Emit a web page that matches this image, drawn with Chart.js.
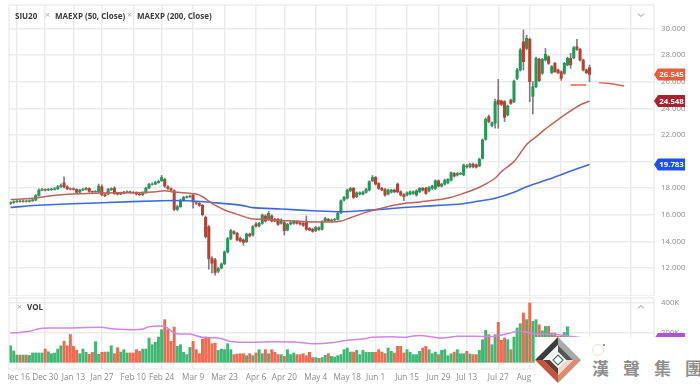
<!DOCTYPE html>
<html><head><meta charset="utf-8">
<script src="https://cdn.jsdelivr.net/npm/chart.js@4"></script>
<style>
html,body{margin:0;padding:0;background:#fff;width:700px;height:388px;overflow:hidden;font-family:"Open Sans",sans-serif}
#stage{position:absolute;left:0;top:0;width:700px;height:388px;filter:blur(0.45px)}
canvas{position:absolute;left:0}
.lg{position:absolute;font-size:8px;font-weight:700;color:#3a3a3a;white-space:nowrap;line-height:10px}
.x{position:absolute;font-size:9px;color:#aaa;line-height:10px}
</style></head><body>
<div id="stage">
<canvas id="main" width="700" height="296" style="top:0"></canvas>
<canvas id="vol" width="700" height="91" style="top:297px"></canvas>
<div class="lg" style="left:15px;top:11px">SIU20</div>
<div class="x" style="left:45px;top:10px">×</div>
<div class="lg" style="left:55px;top:11px">MAEXP (50, Close)</div>
<div class="x" style="left:127px;top:10px">×</div>
<div class="lg" style="left:137px;top:11px">MAEXP (200, Close)</div>
<div class="x" style="left:17px;top:302px">×</div>
<div class="lg" style="left:27px;top:302px">VOL</div>
<svg style="position:absolute;left:637px;top:12px" width="8" height="6"><path d="M1 1.5L4 4.5L7 1.5" fill="none" stroke="#888" stroke-width="1"/></svg>
<svg style="position:absolute;left:637px;top:304px" width="8" height="6"><path d="M1 4.5L4 1.5L7 4.5" fill="none" stroke="#888" stroke-width="1"/></svg>
<div style="position:absolute;left:0;top:368px;width:8px;height:20px;background:#fff"></div>
<div style="position:absolute;left:535px;top:337px;width:165px;height:51px;background:#fff"></div>
<svg style="position:absolute;left:535px;top:337px" width="46" height="46" viewBox="0 0 46 46">
<polygon points="23,0 0,23 8,23 23,8" fill="#3c3c3c"/>
<polygon points="23,0 46,23 38,23 23,8" fill="#a9a9a9"/>
<polygon points="0,23 23,46 23,38 8,23" fill="#c2553c"/>
<polygon points="46,23 23,46 23,38 38,23" fill="#dc8a72"/>
<polygon points="23,8 8,23 15,23 23,15" fill="#f2f2f2"/>
<polygon points="23,8 38,23 31,23 23,15" fill="#555"/>
<polygon points="8,23 23,38 23,31 15,23" fill="#6d3a30"/>
<polygon points="38,23 23,38 23,31 31,23" fill="#f3d8cf"/>
<polygon points="23,15 15,23 23,31 31,23" fill="#fff"/>
<path d="M23 18L28 23L23 28L18 23Z" fill="none" stroke="#3b7d5a" stroke-width="1.2"/>
</svg>
<svg style="position:absolute;left:591px;top:343px" width="16" height="16"><circle cx="7" cy="7" r="5.5" fill="none" stroke="#e4e4d8" stroke-width="1"/><circle cx="13" cy="2" r="1" fill="#4c8a5c"/></svg>
<div style="position:absolute;left:592px;top:357px;font-family:'Noto Sans CJK TC';font-weight:700;font-size:17px;line-height:22px;letter-spacing:14px;color:#8d8d8d;white-space:nowrap;width:108px;overflow:hidden">漢聲集團</div>
</div>
<script>
const tradingDays=[['Dec',[12,13,16,17,18,19,20,23,24,26,27,30,31]],
['Jan',[2,3,6,7,8,9,10,13,14,15,16,17,21,22,23,24,27,28,29,30,31]],
['Feb',[3,4,5,6,7,10,11,12,13,14,18,19,20,21,24,25,26,27,28]],
['Mar',[2,3,4,5,6,9,10,11,12,13,16,17,18,19,20,23,24,25,26,27,30,31]],
['Apr',[1,2,3,6,7,8,9,13,14,15,16,17,20,21,22,23,24,27,28,29,30]],
['May',[1,4,5,6,7,8,11,12,13,14,15,18,19,20,21,22,26,27,28,29]],
['Jun',[1,2,3,4,5,8,9,10,11,12,15,16,17,18,19,22,23,24,25,26,29,30]],
['Jul',[1,2,6,7,8,9,10,13,14,15,16,17,20,21,22,23,24,27,28,29,30,31]],
['Aug',[3,4,5,6,7,10,11,12,13,14,17,18,19,20,21,24,25,26,27,28,31]],
['Sep',[1,2,3,4,8,9,10,11,14,15,16,17,18,21,22,23,24,25,28,29,30]],
['Oct',[1,2,5]]];
const dates=tradingDays.flatMap(m=>m[1].map(d=>m[0]+' '+d));
const tickDates=['Dec 16','Dec 30','Jan 13','Jan 27','Feb 10','Feb 24','Mar 9','Mar 23','Apr 6','Apr 20','May 4','May 18','Jun 1','Jun 15','Jun 29','Jul 13','Jul 27','Aug 10','Aug 24','Sep 4','Sep 24'];
const priceTicks=[12,14,16,18,20,22,24,26,28,30];
const volTicks=[0,200,400];
const opens=[16.85,16.92,16.98,17.02,17.00,17.03,17.00,17.05,17.10,17.45,
17.85,17.90,17.85,17.88,17.90,17.95,18.10,18.40,18.10,17.95,
17.95,17.90,17.70,17.85,17.90,17.98,17.75,17.72,17.72,18.10,
17.50,17.55,17.88,18.00,17.60,17.55,17.62,17.70,17.72,17.68,
17.65,17.55,17.50,17.65,18.00,18.28,18.30,18.42,18.55,18.65,
18.10,17.95,17.80,16.40,16.60,17.10,17.30,17.35,17.45,16.90,
16.85,16.70,15.80,15.10,12.70,12.60,11.75,12.00,12.30,13.20,
14.20,14.72,14.60,14.22,14.10,13.97,14.55,14.47,15.30,15.15,
15.35,15.90,15.65,15.90,15.65,15.65,15.35,15.40,14.85,15.30,
15.35,15.47,15.40,15.35,15.47,14.97,14.90,14.80,15.00,14.90,
15.52,15.65,15.52,15.60,15.65,16.15,17.10,17.25,17.80,17.98,
17.35,17.55,17.55,17.68,17.85,18.55,18.80,18.35,17.98,17.90,
17.55,17.70,17.85,18.30,17.72,17.50,17.48,17.55,17.60,17.48,
17.72,17.98,17.98,17.80,17.98,17.98,18.55,18.15,18.30,18.40,
18.60,19.10,18.98,19.05,19.00,19.65,19.60,19.80,19.75,19.66,
20.24,21.67,23.37,22.70,22.87,24.62,24.55,24.50,23.50,24.62,
24.50,26.25,26.88,29.00,28.50,29.19,24.90,25.63,27.68,26.63,
27.63,27.88,26.68,27.38,26.88,26.75,26.63,27.26,27.76,27.80,
28.63,28.43,27.63,26.88,27.05];
const closes=[16.92,16.98,17.02,17.00,17.03,17.00,17.05,17.12,17.45,17.85,
17.90,17.85,17.90,17.92,17.95,18.10,18.20,18.10,17.95,17.92,
17.90,17.68,17.85,17.90,17.98,17.75,17.72,17.75,18.15,17.50,
17.42,17.90,17.95,17.60,17.55,17.62,17.70,17.72,17.68,17.65,
17.55,17.50,17.65,18.00,18.28,18.30,18.42,18.50,18.80,18.15,
17.98,17.85,16.40,16.60,17.10,17.30,17.35,17.40,16.95,16.85,
16.70,16.00,14.35,12.70,12.35,11.65,11.95,12.30,13.20,14.20,
14.80,14.60,14.10,14.02,13.92,14.55,14.40,15.10,15.15,15.35,
15.97,15.52,16.10,15.52,15.52,15.27,15.60,14.80,15.27,15.40,
15.50,15.35,15.30,15.20,14.90,14.85,14.75,15.05,14.90,15.47,
15.72,15.55,15.60,15.65,16.10,17.05,17.30,17.85,17.98,17.30,
17.65,17.65,17.70,17.90,18.48,18.80,18.30,17.98,17.85,17.48,
17.85,17.85,17.72,17.72,17.48,17.35,17.65,17.72,17.72,17.80,
17.98,17.85,17.60,18.05,18.15,18.55,18.15,18.30,18.60,18.65,
19.15,18.90,19.10,19.10,19.74,19.60,19.80,19.60,19.57,20.17,
21.62,23.17,23.00,22.90,24.50,24.30,24.30,23.32,24.17,24.37,
26.05,26.88,28.38,27.50,29.26,26.00,25.63,27.76,26.08,27.68,
28.06,27.38,27.13,26.75,26.68,26.25,27.38,27.76,27.26,28.56,
28.43,27.63,26.88,26.68,26.55];
const highs=[16.98,17.05,17.08,17.08,17.10,17.08,17.12,17.18,17.52,17.95,
17.98,17.95,17.97,18.00,18.05,18.20,18.32,18.85,18.18,18.02,
18.02,17.95,17.92,17.98,18.05,18.02,17.80,17.82,18.30,18.25,
17.60,17.98,18.02,18.10,17.68,17.70,17.76,17.80,17.78,17.74,
17.72,17.60,17.72,18.08,18.36,18.40,18.52,18.60,18.95,18.75,
18.18,18.02,17.88,16.70,17.18,17.38,17.42,17.48,17.55,17.00,
16.92,16.78,15.90,15.18,12.85,12.72,12.05,12.38,13.28,14.30,
14.90,14.80,14.68,14.32,14.18,14.62,14.62,15.18,15.40,15.42,
16.05,16.00,16.25,16.00,15.72,15.72,15.68,15.50,15.35,15.48,
15.58,15.55,15.47,15.42,15.90,15.05,14.98,15.12,15.08,15.55,
15.80,15.72,15.68,15.72,16.18,17.12,17.38,17.92,18.05,18.05,
17.72,17.72,17.78,17.98,18.55,18.95,18.88,18.42,18.05,17.98,
17.92,17.92,17.92,18.38,17.80,17.58,17.72,17.80,17.80,17.88,
18.05,18.05,18.05,18.12,18.22,18.62,18.62,18.38,18.68,18.72,
19.22,19.18,19.18,19.18,19.80,19.78,19.88,19.88,19.82,20.25,
21.70,23.28,23.50,22.98,24.70,26.18,24.62,24.58,24.25,24.70,
26.12,27.00,28.50,29.89,29.50,29.28,26.00,27.85,27.75,27.75,
28.50,27.95,27.22,27.45,26.95,26.82,27.45,27.85,28.13,28.65,
29.19,28.50,27.70,26.95,27.25];
const lows=[16.78,16.85,16.92,16.95,16.95,16.95,16.95,17.00,17.05,17.40,
17.80,17.78,17.80,17.82,17.85,17.90,18.05,18.02,17.88,17.85,
17.84,17.62,17.65,17.80,17.85,17.68,17.65,17.68,17.65,17.42,
17.36,17.48,17.82,17.52,17.48,17.50,17.56,17.64,17.60,17.58,
17.48,17.44,17.44,17.60,17.95,18.22,18.25,18.36,18.50,18.05,
17.90,17.78,16.30,16.30,16.55,17.02,17.25,17.30,16.50,16.78,
16.62,15.90,14.25,11.90,11.60,11.45,11.65,11.92,12.25,13.12,
14.12,14.52,14.02,13.95,13.70,13.90,14.32,14.38,15.06,15.08,
15.28,15.45,15.58,15.45,15.45,15.20,15.28,14.48,14.78,15.22,
15.28,15.28,15.22,15.12,14.82,14.78,14.68,14.72,14.82,14.84,
15.46,15.48,15.46,15.52,15.60,16.08,17.02,17.18,17.72,17.22,
17.28,17.48,17.48,17.62,17.78,18.48,18.22,17.90,17.78,17.40,
17.48,17.62,17.65,17.65,17.40,17.05,17.42,17.48,17.52,17.40,
17.65,17.78,17.52,17.72,17.90,17.90,18.08,18.08,18.22,18.32,
18.52,18.82,18.90,19.00,18.92,19.50,19.52,19.52,19.50,19.60,
20.18,21.60,22.90,22.60,22.50,22.50,24.20,23.00,23.42,24.30,
24.42,26.15,26.80,26.88,28.40,24.50,23.57,25.55,26.00,26.55,
27.55,27.30,26.60,26.70,26.60,26.10,26.55,27.20,27.00,27.72,
28.35,27.55,26.80,26.60,26.00];
const volumes=[115,80,53,53,53,53,50,67,67,67,67,93,75,62,67,93,115,145,115,190,
111,85,62,93,71,58,71,142,58,71,73,73,115,62,102,73,89,67,67,67,
89,78,93,93,166,122,138,173,222,289,222,144,240,111,122,71,56,104,144,89,
62,160,173,167,129,133,84,93,89,129,89,56,60,62,62,49,62,49,67,89,
62,89,62,89,71,56,56,44,89,56,67,56,56,62,49,71,36,36,31,36,
51,62,44,40,49,56,89,100,73,73,84,56,84,71,71,71,71,89,73,62,
100,78,67,111,111,67,89,71,56,56,78,100,111,89,62,73,56,84,89,49,
62,73,89,62,62,78,60,56,56,84,155,218,189,122,189,271,151,167,155,89,
173,233,262,333,289,400,278,289,255,215,244,244,200,200,178,178,204,242,120,110,
130,100,110,90,85];
const ma50Idx=[0,7,13,20,29,39,45,49,52,59,61,64,68,70,73,76,80,87,94,102,105,108,112,117,121,125,129,133,138,143,149,154,156,160,162,164,167,170,174,177,181,184];
const ma50Val=[17.15,17.23,17.43,17.55,17.63,17.65,17.7,17.8,17.7,17.55,17.35,16.85,16.35,16.18,15.95,15.72,15.65,15.55,15.47,15.45,15.52,15.77,16.1,16.43,16.68,16.85,16.93,17.05,17.2,17.53,18.06,18.74,19.24,19.99,20.62,21.28,21.85,22.45,23.15,23.65,24.25,24.548];
const ma200Idx=[0,10,29,48,56,65,73,77,86,96,105,112,121,129,138,143,149,154,160,164,171,177,184];
const ma200Val=[16.55,16.73,16.9,17.05,17.05,16.9,16.72,16.53,16.43,16.3,16.22,16.3,16.47,16.6,16.73,16.8,17.03,17.23,17.68,18.11,18.66,19.19,19.783];
const volMaIdx=[0,3,6,9,13,18,29,32,39,42,44,49,51,53,57,61,66,70,75,83,90,96,102,106,112,115,121,125,130,137,142,146,148,154,160,162,167,170,176,184];
const volMaVal=[200,204,211,229,233,233,238,229,222,226,242,244,215,195,193,171,167,144,138,142,140,129,135,149,160,171,175,171,184,167,178,178,178,178,207,211,193,193,184,160];
const forecastIdx=[178,183,184,187,191,195];
const forecastVal=[25.75,25.75,null,25.93,25.85,25.68];
const lastClose=26.545, lastMa50=24.548, lastMa200=19.783, lastVolMa=160;

Chart.defaults.animation=false;
Chart.defaults.font.family='"Open Sans",sans-serif';
const GREEN='#1f9a57',RED='#b9402f',VG='#3fb874',VR='#ee6a50',GRID='#ebebeb';
const up=closes.map((c,i)=>c>=opens[i]);
function keepTicks(list){return s=>{s.ticks=s.ticks.filter(t=>list.includes(dates[t.value]));};}
function keepVals(list){return s=>{s.ticks=list.map(v=>({value:v}));};}
function noPad(a){a.paddingTop=0;a.paddingBottom=0;a.paddingLeft=0;a.paddingRight=0;}
function fitY(a){a.width=46;noPad(a);}
function tag(ctx,yPx,color,text){
  ctx.save();ctx.fillStyle=color;ctx.beginPath();
  const y=yPx,l=654,b=658,r=685,h=6;
  ctx.moveTo(l,y);ctx.lineTo(b,y-h);ctx.lineTo(r,y-h);ctx.lineTo(r,y+h);ctx.lineTo(b,y+h);ctx.closePath();ctx.fill();
  ctx.fillStyle='#fff';ctx.font='700 7.8px "Open Sans"';ctx.textAlign='center';ctx.textBaseline='middle';
  ctx.fillText(text,671.5,y+0.5);ctx.restore();
}
const frame={id:'frame',afterDraw(c){const a=c.chartArea,x=c.ctx;x.save();x.strokeStyle='#e4e4e4';x.lineWidth=1;x.strokeRect(a.left,a.top,a.right-a.left,a.bottom-a.top);x.restore();}};
const mainTags={id:'mainTags',afterDraw(c){const s=c.scales.y,x=c.ctx;
  tag(x,s.getPixelForValue(lastClose),'#f25a3a',lastClose.toFixed(3));
  tag(x,s.getPixelForValue(lastMa50),'#a8232f',lastMa50.toFixed(3));
  tag(x,s.getPixelForValue(lastMa200),'#1f4fee',lastMa200.toFixed(3));}};
const volTags={id:'volTags',afterDraw(c){tag(c.ctx,c.scales.y.getPixelForValue(lastVolMa),'#b44fe0',lastVolMa+'K');}};

new Chart(document.getElementById('main'),{type:'bar',
 data:{labels:dates,datasets:[
  {type:'line',data:ma50Idx.map((i,k)=>({x:dates[i],y:ma50Val[k]})),borderColor:'#c4605a',borderWidth:1.5,pointRadius:0,tension:.3,order:1},
  {type:'line',data:ma200Idx.map((i,k)=>({x:dates[i],y:ma200Val[k]})),borderColor:'#3f68e6',borderWidth:1.6,pointRadius:0,tension:.3,order:2},
  {type:'line',data:forecastIdx.map((i,k)=>({x:dates[i],y:forecastVal[k]})),borderColor:'#e8604a',borderWidth:1.4,pointRadius:0,spanGaps:false,order:3},
  {data:highs.map((h,i)=>[lows[i],h]),backgroundColor:'#7d7d7d',barThickness:1,grouped:false,order:5},
  {data:opens.map((o,i)=>[o,closes[i]]),backgroundColor:up.map(u=>u?GREEN:RED),barThickness:2.4,grouped:false,order:4}
 ]},
 options:{responsive:false,layout:{padding:{left:9,top:5,right:0,bottom:0}},
  plugins:{legend:{display:false},tooltip:{enabled:false}},
  scales:{
   x:{offset:true,afterBuildTicks:keepTicks(tickDates),afterFit:a=>{a.height=0;noPad(a);},grid:{color:GRID,lineWidth:1.5,offset:false,drawTicks:false},border:{display:false},ticks:{display:false,autoSkip:false}},
   y:{position:'right',min:9.887,max:31.767,afterBuildTicks:keepVals(priceTicks),afterFit:fitY,
      grid:{color:GRID,lineWidth:1.5,drawTicks:false},border:{display:false},
      ticks:{padding:7,color:'#8a8a8a',font:{size:7.8},callback:v=>v.toFixed(3)}}
  }},plugins:[frame,mainTags]});

new Chart(document.getElementById('vol'),{type:'bar',
 data:{labels:dates,datasets:[
  {type:'line',data:volMaIdx.map((i,k)=>({x:dates[i],y:volMaVal[k]})),borderColor:'#cf86e6',borderWidth:1.5,pointRadius:0,tension:.25,order:1},
  {data:volumes,backgroundColor:up.map(u=>u?VG:VR),barThickness:2.3,grouped:false,order:2}
 ]},
 options:{responsive:false,layout:{padding:{left:9,top:1,right:0,bottom:0}},
  plugins:{legend:{display:false},tooltip:{enabled:false}},
  scales:{
   x:{offset:true,afterBuildTicks:keepTicks(tickDates),grid:{color:GRID,lineWidth:1.5,offset:false,drawTicks:false},border:{display:false},
      ticks:{autoSkip:false,maxRotation:0,padding:4,color:'#8a8a8a',font:{size:8.2}},afterFit:a=>{a.height=19;noPad(a);}},
   y:{position:'right',min:-40,max:433.3,afterBuildTicks:keepVals(volTicks),afterFit:fitY,
      grid:{color:GRID,lineWidth:1.5,drawTicks:false},border:{display:false},
      ticks:{padding:7,color:'#8a8a8a',font:{size:7.8},callback:v=>v===0?'':v+'K'}}
  }},plugins:[frame,volTags]});
</script>
</body></html>
